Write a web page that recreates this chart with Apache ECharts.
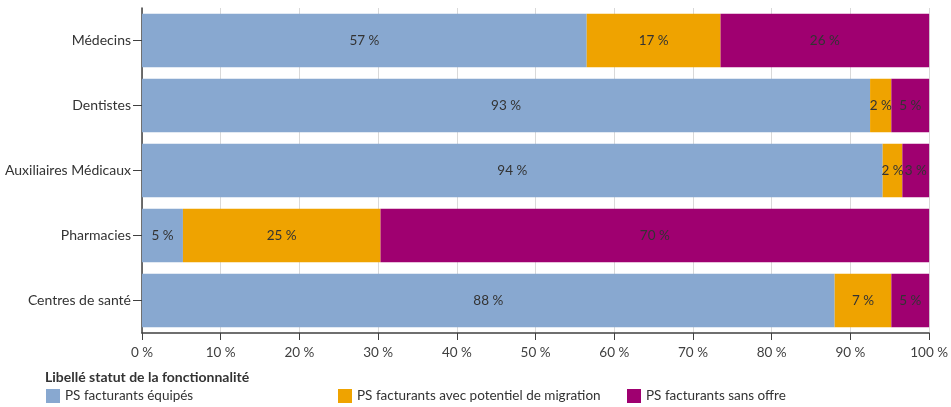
<!DOCTYPE html>
<html>
<head>
<meta charset="utf-8">
<script src="https://cdn.jsdelivr.net/npm/echarts@6/dist/echarts.min.js"></script>
<style>
  html, body { margin: 0; padding: 0; background: #fff; }
  #chart { width: 951px; height: 407px; }
</style>
</head>
<body>
<div id="chart"></div>
<script>
// categories, top to bottom
var categories = ['Médecins', 'Dentistes', 'Auxiliaires Médicaux', 'Pharmacies', 'Centres de santé'];

var seriesNames = ['PS facturants équipés', 'PS facturants avec potentiel de migration', 'PS facturants sans offre'];

// bar widths (%)
var equipes   = [56.5, 92.5, 94.1, 5.2, 88.0];
var migration = [17.0, 2.7, 2.5, 25.1, 7.2];
var sansOffre = [26.5, 4.8, 3.4, 69.7, 4.8];

// the printed labels
var equipesLbl   = [57, 93, 94, 5, 88];
var migrationLbl = [17, 2, 2, 25, 7];
var sansOffreLbl = [26, 5, 3, 70, 5];

var xTicks = [0, 10, 20, 30, 40, 50, 60, 70, 80, 90, 100];

var colors = ['#88a8d0', '#efa300', '#9f0070'];
var font = 'Lato, "Open Sans", sans-serif';

var chart = echarts.init(document.getElementById('chart'));

function makeSeries(name, vals, lbls, color) {
  return {
    name: name,
    type: 'bar',
    stack: 'total',
    barCategoryGap: '18%',
    data: vals,
    itemStyle: { color: color },
    label: {
      show: true,
      position: 'inside',
      color: '#333',
      fontFamily: font,
      fontSize: 13.5,
      formatter: function (p) { return lbls[p.dataIndex] + ' %'; }
    },
    emphasis: { disabled: true }
  };
}

var legendBase = {
  orient: 'horizontal',
  icon: 'rect',
  itemWidth: 14,
  itemHeight: 14,
  itemGap: 8,
  textStyle: { color: '#333', fontFamily: font, fontSize: 13.5 },
  selectedMode: false
};

var option = {
  animation: false,
  backgroundColor: '#fff',
  title: {
    text: 'Libellé statut de la fonctionnalité',
    left: 40,
    top: 365,
    textStyle: { color: '#333', fontFamily: font, fontSize: 14, fontWeight: 'bold' }
  },
  legend: [
    Object.assign({}, legendBase, { data: [seriesNames[0]], left: 41, top: 384 }),
    Object.assign({}, legendBase, { data: [seriesNames[1]], left: 333, top: 384 }),
    Object.assign({}, legendBase, { data: [seriesNames[2]], left: 622, top: 384 })
  ],
  grid: { left: 142, right: 21, top: 8, bottom: 74, containLabel: false },
  xAxis: {
    type: 'value',
    min: 0,
    max: 100,
    interval: 10,
    axisLine: { show: true, lineStyle: { color: '#404040', width: 1.5 } },
    axisTick: { show: true, length: 7, lineStyle: { color: '#404040' } },
    axisLabel: {
      color: '#404040',
      fontFamily: font,
      fontSize: 13.5,
      margin: 13,
      formatter: function (v) { return xTicks.indexOf(v) >= 0 ? v + ' %' : ''; }
    },
    splitLine: { show: true, lineStyle: { color: '#d9d9d9', width: 1 } }
  },
  yAxis: {
    type: 'category',
    inverse: true,
    data: categories,
    axisLine: { show: true, lineStyle: { color: '#404040', width: 1.5 } },
    axisTick: { show: true, alignWithLabel: true, length: 9, interval: 0, lineStyle: { color: '#404040' } },
    axisLabel: { color: '#333', fontFamily: font, fontSize: 14, margin: 11 },
    splitLine: { show: false }
  },
  series: [
    makeSeries(seriesNames[0], equipes, equipesLbl, colors[0]),
    makeSeries(seriesNames[1], migration, migrationLbl, colors[1]),
    makeSeries(seriesNames[2], sansOffre, sansOffreLbl, colors[2])
  ]
};

chart.setOption(option);
</script>
</body>
</html>
